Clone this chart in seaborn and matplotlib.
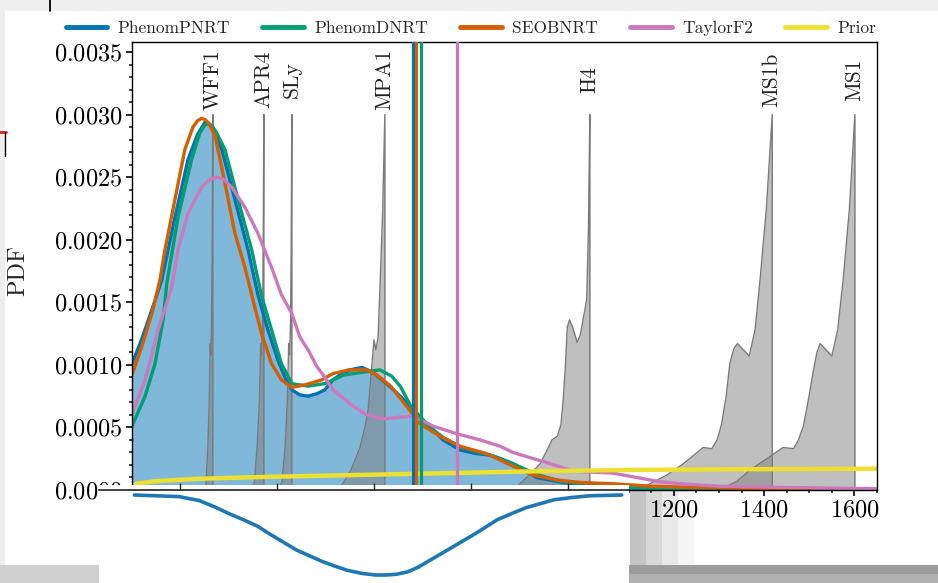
import matplotlib
matplotlib.use("Agg")
import matplotlib.pyplot as plt
from matplotlib.patches import Rectangle
from matplotlib.lines import Line2D
from matplotlib.ticker import MultipleLocator
import seaborn as sns

# ---------------- posterior densities of the tidal deformability ----------------
pnrt_x = [0, 21, 44, 66, 95, 124, 145, 155, 162, 170, 180, 199, 228, 257, 279, 301, 323, 340,
          354, 372, 390, 410, 427, 445, 465, 483, 509, 534, 564, 594, 616, 653, 689, 726, 763,
          793, 844, 896, 955, 1020, 1100, 1200, 1400, 1650]
pnrt_y = [0.00101, 0.00120, 0.00144, 0.00168, 0.00218, 0.00264, 0.00284, 0.00290, 0.00294,
          0.00293, 0.00289, 0.00272, 0.00232, 0.00192, 0.00156, 0.00128, 0.00104, 0.00089,
          0.00080, 0.00076, 0.00075, 0.00077, 0.00080, 0.00088, 0.00093, 0.00096, 0.00098,
          0.00094, 0.00085, 0.00075, 0.00067, 0.00053, 0.00040, 0.00032, 0.00029, 0.00028,
          0.00021, 0.00010, 0.00006, 0.00003, 0.00001, 0.0, 0.0, 0.0]

dnrt_x = [0, 29, 51, 69, 77, 102, 132, 150, 160, 169, 177, 185, 206, 235, 265, 287, 309, 331,
          354, 390, 427, 470, 510, 549, 575, 594, 622, 650, 689, 730, 770, 810, 850, 900, 950,
          1020, 1100, 1200, 1650]
dnrt_y = [0.00051, 0.00075, 0.00101, 0.00136, 0.00165, 0.00218, 0.00264, 0.00285, 0.00291,
          0.00293, 0.00291, 0.00287, 0.00272, 0.00232, 0.00192, 0.00155, 0.00128, 0.00101,
          0.00085, 0.00083, 0.00085, 0.00092, 0.00094, 0.00096, 0.00091, 0.00083, 0.00064,
          0.00053, 0.00042, 0.00034, 0.00030, 0.00026, 0.00020, 0.00012, 0.00007, 0.00004,
          0.00002, 0.00001, 0.0]

seob_x = [0, 21, 44, 62, 73, 95, 117, 135, 145, 154, 162, 170, 184, 206, 228, 250, 272, 287,
          309, 331, 354, 383, 420, 445, 480, 520, 542, 573, 608, 638, 682, 726, 786, 844, 888,
          941, 992, 1065, 1150, 1250, 1400, 1650]
seob_y = [0.00092, 0.00114, 0.00141, 0.00168, 0.00192, 0.00232, 0.00272, 0.00290, 0.00295,
          0.00297, 0.00296, 0.00293, 0.00283, 0.00245, 0.00205, 0.00178, 0.00146, 0.00125,
          0.00101, 0.00088, 0.00082, 0.00084, 0.00088, 0.00093, 0.00096, 0.00096, 0.00092,
          0.00083, 0.00067, 0.00053, 0.00043, 0.00035, 0.00029, 0.00019, 0.00012, 0.00008,
          0.00006, 0.00005, 0.00003, 0.00002, 0.00001, 0.0]

tf2_x = [0, 29, 58, 88, 102, 124, 154, 172, 187, 204, 221, 250, 279, 309, 331, 354, 372, 390,
         409, 427, 445, 490, 520, 556, 590, 616, 640, 667, 719, 771, 815, 844, 880, 918, 977,
         1065, 1118, 1162, 1214, 1300, 1450, 1650]
tf2_y = [0.00061, 0.00088, 0.00128, 0.00162, 0.00192, 0.00221, 0.00242, 0.00248, 0.00250,
         0.00248, 0.00242, 0.00226, 0.00205, 0.00178, 0.00156, 0.00141, 0.00122, 0.00112,
         0.00099, 0.00090, 0.00080, 0.00067, 0.00060, 0.00057, 0.00058, 0.00059, 0.00056,
         0.00051, 0.00045, 0.00040, 0.00035, 0.00030, 0.00026, 0.00022, 0.00015, 0.000135,
         0.00010, 0.00007, 0.00005, 0.00003, 0.00002, 0.00001]

prior_x = [0, 10, 50, 150, 300, 500, 700, 900, 1100, 1300, 1500, 1650]
prior_y = [0.00003, 0.00005, 0.00007, 0.00009, 0.000105, 0.00012, 0.000135, 0.00015,
           0.00016, 0.000165, 0.000168, 0.00017]

# 90% upper bounds of each waveform model
upper_bounds = {"PhenomPNRT": 622, "SEOBNRT": 629, "PhenomDNRT": 640, "TaylorF2": 720}

# ---------------- tidal deformability spread predicted by each EOS ----------------
eos_names = ["WFF1", "APR4", "SLy", "MPA1", "H4", "MS1b", "MS1"]
eos_peaks = [179, 292, 354, 560, 1014, 1417, 1601]
eos_x = {
    "WFF1": [158, 164, 168, 171, 173, 174.5, 176, 177.5, 179, 179],
    "APR4": [262, 271, 277, 282, 285, 287, 289, 290.5, 292, 292],
    "SLy": [320, 332, 339, 344, 347, 349, 351, 352.5, 354, 354],
    "MPA1": [450, 467, 485, 505, 517, 523, 529, 536, 540, 545, 549, 555, 560, 560],
    "H4": [845, 859, 880, 904, 918, 930, 942, 950, 955, 960, 964, 969, 976, 986, 993, 1000,
           1007, 1011, 1014, 1014],
    "MS1b": [1120, 1147, 1185, 1221, 1245, 1265, 1284, 1296, 1306, 1316, 1324, 1333, 1341, 1354,
             1367, 1380, 1391, 1405, 1418, 1418],
    "MS1": [1290, 1306, 1340, 1369, 1410, 1442, 1465, 1476, 1487, 1498, 1509, 1517, 1524, 1537,
            1550, 1563, 1575, 1589, 1601, 1601],
}
eos_y = {
    "WFF1": [0.0, 0.00005, 0.00034, 0.0007, 0.00117, 0.00108, 0.0013, 0.0019, 0.0030, 0.0],
    "APR4": [0.0, 0.00006, 0.00034, 0.0007, 0.00117, 0.00108, 0.0013, 0.0019, 0.0030, 0.0],
    "SLy": [0.0, 0.00006, 0.00034, 0.0007, 0.00117, 0.00108, 0.0013, 0.0019, 0.0030, 0.0],
    "MPA1": [0.0, 0.00005, 0.00016, 0.00034, 0.00052, 0.00064, 0.0009, 0.0012, 0.00112,
             0.00122, 0.0016, 0.0022, 0.0030, 0.0],
    "H4": [0.0, 0.00005, 0.00012, 0.00021, 0.00031, 0.00040, 0.00043, 0.00052, 0.00072,
           0.00100, 0.0013, 0.00136, 0.00130, 0.00118, 0.00124, 0.00138, 0.00152, 0.0021,
           0.0030, 0.0],
    "MS1b": [0.0, 0.00005, 0.00012, 0.00021, 0.00028, 0.00034, 0.00033, 0.00040, 0.00053,
             0.00075, 0.00101, 0.00113, 0.00117, 0.00112, 0.00107, 0.00128, 0.00168, 0.00225,
             0.0030, 0.0],
    "MS1": [0.0, 0.00001, 0.00007, 0.00016, 0.00026, 0.00034, 0.00033, 0.00040, 0.00051,
            0.00072, 0.00095, 0.00110, 0.00117, 0.00112, 0.00107, 0.00128, 0.00168, 0.00225,
            0.0030, 0.0],
}

# ---------------- lower strip curve ----------------
strip_x = [106, 198, 240, 272, 300, 331, 360, 383, 441, 493, 520, 544, 575, 603, 625, 647, 670,
           692, 751, 810, 854, 885, 913, 971, 1010, 1045, 1111]
strip_y = [0.0, -0.02, -0.07, -0.15, -0.23, -0.31, -0.39, -0.48, -0.69, -0.83, -0.89, -0.94,
           -0.98, -1.0, -1.0, -0.99, -0.96, -0.9, -0.69, -0.48, -0.31, -0.23, -0.16, -0.06,
           -0.03, -0.01, 0.0]
strip_ticks = [200, 400, 600, 800, 1000]

# ---------------- style ----------------
sns.set_theme(style="ticks")
plt.rcParams.update({
    "font.family": ["serif"],
    "font.serif": ["cmr10", "DejaVu Serif"],
    "axes.formatter.use_mathtext": True,
    "mathtext.fontset": "cm",
    "axes.linewidth": 1.0,
    "axes.edgecolor": "black",
})

pal = sns.color_palette("colorblind")
c_pnrt, c_dnrt, c_seob, c_tf2, c_prior = pal[0], pal[2], pal[3], pal[4], pal[8]
colors = {"PhenomPNRT": c_pnrt, "PhenomDNRT": c_dnrt, "SEOBNRT": c_seob,
          "TaylorF2": c_tf2, "Prior": c_prior}

W, H = 938, 583
fig = plt.figure(figsize=(W / 100, H / 100), dpi=100)
fig.patch.set_facecolor("white")


def fx(px):
    return px / W


def fy(py):
    return 1 - py / H


ax = fig.add_axes([fx(132), fy(490), (877 - 132) / W, (490 - 42) / H], zorder=0.8)
ax.set_facecolor("white")

# posterior shading and curves
ax.fill_between(pnrt_x, pnrt_y, color=c_pnrt, alpha=0.5, lw=0, zorder=1)

for name, ex in eos_x.items():
    ax.fill_between(ex, eos_y[name], color="gray", alpha=0.5, lw=0, zorder=1.5)
    ax.plot(ex, eos_y[name], color="#7a7a7a", lw=1.0, zorder=1.6)

lw = 2.4
sns.lineplot(x=pnrt_x, y=pnrt_y, ax=ax, color=c_pnrt, lw=lw, sort=False, estimator=None, zorder=2)
sns.lineplot(x=dnrt_x, y=dnrt_y, ax=ax, color=c_dnrt, lw=lw, sort=False, estimator=None, zorder=2.1)
sns.lineplot(x=seob_x, y=seob_y, ax=ax, color=c_seob, lw=lw, sort=False, estimator=None, zorder=2.2)
sns.lineplot(x=tf2_x, y=tf2_y, ax=ax, color=c_tf2, lw=lw, sort=False, estimator=None, zorder=2.3)
sns.lineplot(x=prior_x, y=prior_y, ax=ax, color=c_prior, lw=3.2, sort=False, estimator=None,
             zorder=2.5)

for name in ["PhenomPNRT", "SEOBNRT", "PhenomDNRT", "TaylorF2"]:
    ax.axvline(upper_bounds[name], color=colors[name], lw=2.3, zorder=3)

for name, peak in zip(eos_names, eos_peaks):
    ax.text(peak, 0.00328, name, rotation=90, ha="center", va="center", fontsize=15.5,
            color="#222222", zorder=4)

ax.set_xlim(0, 1650)
ax.set_ylim(0, 0.00358)
ax.xaxis.set_major_locator(MultipleLocator(200))
ax.xaxis.set_minor_locator(MultipleLocator(50))
ax.yaxis.set_major_locator(MultipleLocator(0.0005))
ax.yaxis.set_minor_locator(MultipleLocator(0.0001))
ax.tick_params(axis="both", which="major", direction="out", length=4, width=1.2,
               labelsize=17.5, pad=3, colors="black")
ax.tick_params(axis="both", which="minor", direction="out", length=2.2, width=1.2)
ax.tick_params(top=False, right=False, which="both")
ax.set_ylabel("PDF", fontsize=17.5)
ax.yaxis.set_label_coords(-0.138, 0.49)
ax.set_xlabel("")
for s in ax.spines.values():
    s.set_visible(True)
    s.set_color("black")

handles = [Line2D([], [], color=colors[n], lw=3.5) for n in colors]
fig.legend(handles, list(colors.keys()), loc="center", bbox_to_anchor=(fx(471), fy(28)),
           ncol=5, frameon=False, fontsize=12.5, handlelength=2.4, columnspacing=1.85,
           handletextpad=0.6)

# page surroundings
fig.add_artist(Rectangle((0, fy(11)), 1, 11 / H, transform=fig.transFigure,
                         color="#f0f0f0", lw=0, zorder=0.5))
fig.add_artist(Rectangle((0, fy(565)), fx(5), (565 - 11) / H, transform=fig.transFigure,
                         color="#eeeeee", lw=0, zorder=0.5))
fig.add_artist(Line2D([fx(50), fx(50)], [fy(0), fy(11)], transform=fig.transFigure,
                      color="black", lw=1.3, zorder=0.6))
fig.add_artist(Line2D([0, fx(6)], [fy(132), fy(132)], transform=fig.transFigure,
                      color="#e02020", lw=2.0, zorder=0.6))
fig.add_artist(Line2D([fx(5), fx(5)], [fy(132), fy(156)], transform=fig.transFigure,
                      color="black", lw=1.0, zorder=0.6))
fig.add_artist(Rectangle((0, 0), 1, 9 / H, transform=fig.transFigure,
                         color="#b0b0b0", lw=0, zorder=0.5))
fig.add_artist(Rectangle((0, 9 / H), 1, 9 / H, transform=fig.transFigure,
                         color="#9c9c9c", lw=0, zorder=0.5))
fig.add_artist(Rectangle((0, 0), fx(99), 18 / H, transform=fig.transFigure,
                         color="#d0d0d0", lw=0, zorder=0.55))
for i, shade in enumerate(["#c4c4c4", "#d8d8d8", "#e8e8e8", "#f5f5f5"]):
    fig.add_artist(Rectangle((fx(630 + 16 * i), 18 / H), 16 / W, (565 - 490) / H,
                             transform=fig.transFigure, color=shade, lw=0, zorder=0.55))

# lower strip panel overlapping the bottom of the chart
fig.add_artist(Rectangle((fx(99), 0), 530 / W, (583 - 485) / H, transform=fig.transFigure,
                         color="white", lw=0, zorder=1))
ax2 = fig.add_axes([fx(99), 0, 530 / W, (583 - 490) / H], zorder=2)
ax2.patch.set_alpha(0)
sns.lineplot(x=strip_x, y=strip_y, ax=ax2, color="#1f77b4", lw=2.6, sort=False, estimator=None)
ax2.set_xlim(33, 1126)
ax2.set_ylim(-1.1, 0.0625)
for side in ["left", "right", "bottom"]:
    ax2.spines[side].set_visible(False)
ax2.spines["top"].set_color("#222222")
ax2.spines["top"].set_linewidth(1.2)
ax2.set_xticks(strip_ticks)
ax2.set_yticks([])
ax2.xaxis.tick_top()
ax2.tick_params(axis="x", direction="out", length=5, width=1.0, labeltop=False,
                labelbottom=False, colors="#222222")
ax2.set_xlabel("")
ax2.set_ylabel("")

fig.savefig("out.png", dpi=100, facecolor="white")
